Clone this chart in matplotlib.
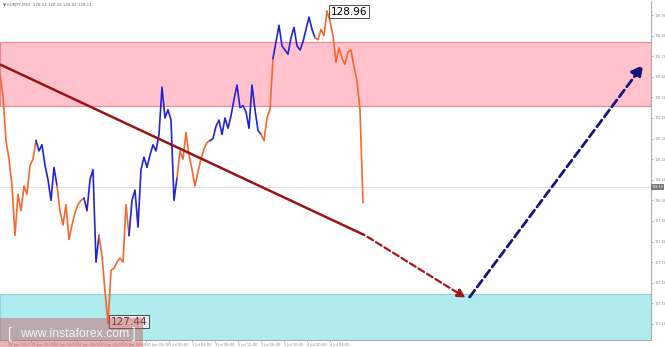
import matplotlib.pyplot as plt
from matplotlib.patches import Rectangle

# EURJPY M15 closes, one value per bar
prices = [
    128.65, 128.55, 128.33, 128.24, 128.11, 127.87, 128.07, 127.99, 128.11, 128.07,
    128.21, 128.24, 128.33, 128.28, 128.31, 128.21, 128.14, 128.04, 128.20, 128.11,
    127.99, 127.92, 128.02, 127.85, 127.92, 127.98, 128.02, 128.04, 128.05, 127.99,
    128.14, 128.19, 127.74, 127.87, 127.77, 127.60, 127.44, 127.70, 127.71, 127.74,
    127.76, 127.74, 128.02, 127.87, 128.04, 128.09, 127.91, 128.19, 128.25, 128.20,
    128.26, 128.31, 128.28, 128.36, 128.59, 128.44, 128.48, 128.43, 128.04, 128.15,
    128.28, 128.24, 128.37, 128.26, 128.19, 128.11, 128.18, 128.24, 128.29, 128.32,
    128.33, 128.34, 128.40, 128.43, 128.36, 128.44, 128.39, 128.45, 128.53, 128.60,
    128.49, 128.50, 128.47, 128.39, 128.60, 128.48, 128.38, 128.36, 128.33, 128.44,
    128.48, 128.73, 128.81, 128.89, 128.79, 128.77, 128.75, 128.83, 128.88, 128.79,
    128.77, 128.81, 128.87, 128.93, 128.87, 128.83, 128.82, 128.87, 128.84, 128.96,
    128.91, 128.84, 128.71, 128.78, 128.73, 128.70, 128.76, 128.77, 128.69, 128.62,
    128.48, 128.03,
]
# wave colouring: bar index where each wave starts, and its colour
wave_starts = [0, 12, 19, 28, 33, 43, 59, 70, 87, 91, 105]
wave_colors = ["o", "b", "o", "b", "o", "b", "o", "b", "o", "b", "o"]

resist_zone = (128.50, 128.81)
support_zone = (127.36, 127.585)
trend_pts = [(0, 128.70), (121.7, 127.87)]
trend_dash = [(121.7, 127.87), (156, 127.56)]
target_pts = [(156, 127.56), (215, 128.71)]
bid = 128.105
y_ticks = [128.94, 128.84, 128.74, 128.64, 128.54, 128.44, 128.34, 128.24,
           128.14, 128.04, 127.94, 127.84, 127.74, 127.64, 127.54, 127.44]
time_labels = ["29 Jun 2017", "29 Jun 20:00", "30 Jun 04:00", "30 Jun 08:00",
               "30 Jun 12:00", "30 Jun 16:00", "30 Jun 20:00", "3 Jul 00:00",
               "3 Jul 04:00", "3 Jul 08:00", "3 Jul 12:00", "3 Jul 16:00",
               "3 Jul 20:00", "4 Jul 00:00", "4 Jul 04:00"]

colors = {"o": "#F26A2E", "b": "#2323D6"}

fig = plt.figure(figsize=(6.65, 3.47), dpi=100)
ax = fig.add_axes([0, 7 / 347, 651 / 665, 339 / 347])
ax.set_xlim(0, 217)
ax.set_ylim(127.362, 129.008)

x_max = 217
ax.add_patch(Rectangle((0, resist_zone[0]), x_max, resist_zone[1] - resist_zone[0],
                       facecolor="#FFC2CC", edgecolor="#E8878F", lw=0.8, zorder=1))
ax.add_patch(Rectangle((0, support_zone[0]), x_max, support_zone[1] - support_zone[0],
                       facecolor="#B0EBEE", edgecolor="#8FD6DC", lw=0.8, zorder=1))

ax.axhline(bid, color="#DDDDDD", lw=0.7, zorder=2)

ends = wave_starts[1:] + [len(prices) - 1]
for s, e, c in zip(wave_starts, ends, wave_colors):
    xs = list(range(s, e + 1))
    ax.plot(xs, prices[s:e + 1], color=colors[c], lw=1.2, zorder=3)

(x0, y0), (x1, y1) = trend_pts
ax.plot([x0, x1], [y0, y1], color="#9A1414", lw=1.8, zorder=4, solid_capstyle="butt")
(x0, y0), (x1, y1) = trend_dash
ax.annotate("", xy=(x1, y1), xytext=(x0, y0),
            arrowprops=dict(arrowstyle="-|>,head_length=0.5,head_width=0.25",
                            color="#A3161A", lw=1.6, linestyle=(0, (3, 1.5))),
            zorder=4)
(x0, y0), (x1, y1) = target_pts
ax.annotate("", xy=(x1, y1), xytext=(x0, y0),
            arrowprops=dict(arrowstyle="-|>,head_length=0.7,head_width=0.35",
                            color="#16167A", lw=2.0, linestyle=(0, (3, 1.5))),
            zorder=4)

i_hi = prices.index(max(prices))
i_lo = prices.index(min(prices))
ax.text(i_hi + 1.3, max(prices) - 0.005, f"{max(prices):.2f}", fontsize=7.5,
        va="center", ha="left", color="black", zorder=6,
        bbox=dict(boxstyle="square,pad=0.15", fc="white", ec="#333333", lw=0.6))
ax.text(i_lo + 1.0, min(prices) + 0.01, f"{min(prices):.2f}", fontsize=7.5,
        va="center", ha="left", color="#333333", zorder=6,
        bbox=dict(boxstyle="square,pad=0.15", fc="#E9E9E9", ec="#333333", lw=0.6))

ax.yaxis.tick_right()
ax.set_yticks(y_ticks)
ax.set_yticklabels([f"{v:.2f}" for v in y_ticks])
ax.tick_params(axis="y", labelsize=2.4, colors="#888888", length=1.5, width=0.4, pad=1)
ax.set_xticks([2.7 + i * 7.67 for i in range(len(time_labels))])
ax.set_xticklabels(time_labels)
ax.tick_params(axis="x", labelsize=2.6, colors="#888888", length=1.5, width=0.4, pad=0.8)
for lab in ax.get_xticklabels():
    lab.set_ha("left")
for side in ["left", "top"]:
    ax.spines[side].set_visible(False)
ax.spines["right"].set_color("#999999")
ax.spines["bottom"].set_color("#999999")
ax.spines["right"].set_linewidth(0.6)
ax.spines["bottom"].set_linewidth(0.6)

fig.text(652 / 665, 1 - 187 / 347, f"{bid:.2f}", fontsize=2.4, color="white",
         va="center", ha="left",
         bbox=dict(boxstyle="square,pad=0.2", fc="#777777", ec="none"))
fig.text(3 / 665, 1 - 5 / 347, "\u25bc EURJPY,M15  128.14 128.16 128.02 128.11",
         fontsize=2.8, color="#666666", va="center", ha="left")

# watermark
fig.patches.append(Rectangle((0, 0), 143 / 665, 29 / 347, transform=fig.transFigure,
                             facecolor="#C85A5A", alpha=0.45, edgecolor="none", zorder=10))
fig.text(8 / 665, 13 / 347, "[", fontsize=10, family="Liberation Sans",
         color="#F4F4F4", va="center", ha="left", zorder=11)
fig.text(20 / 665, 13 / 347, "www.instaforex.com", fontsize=8.8, family="Liberation Sans",
         color="#F4F4F4", va="center", ha="left", zorder=11)
fig.text(132 / 665, 13 / 347, "]", fontsize=10, family="Liberation Sans",
         color="#F4F4F4", va="center", ha="left", zorder=11)

fig.savefig("out.png", dpi=100)
